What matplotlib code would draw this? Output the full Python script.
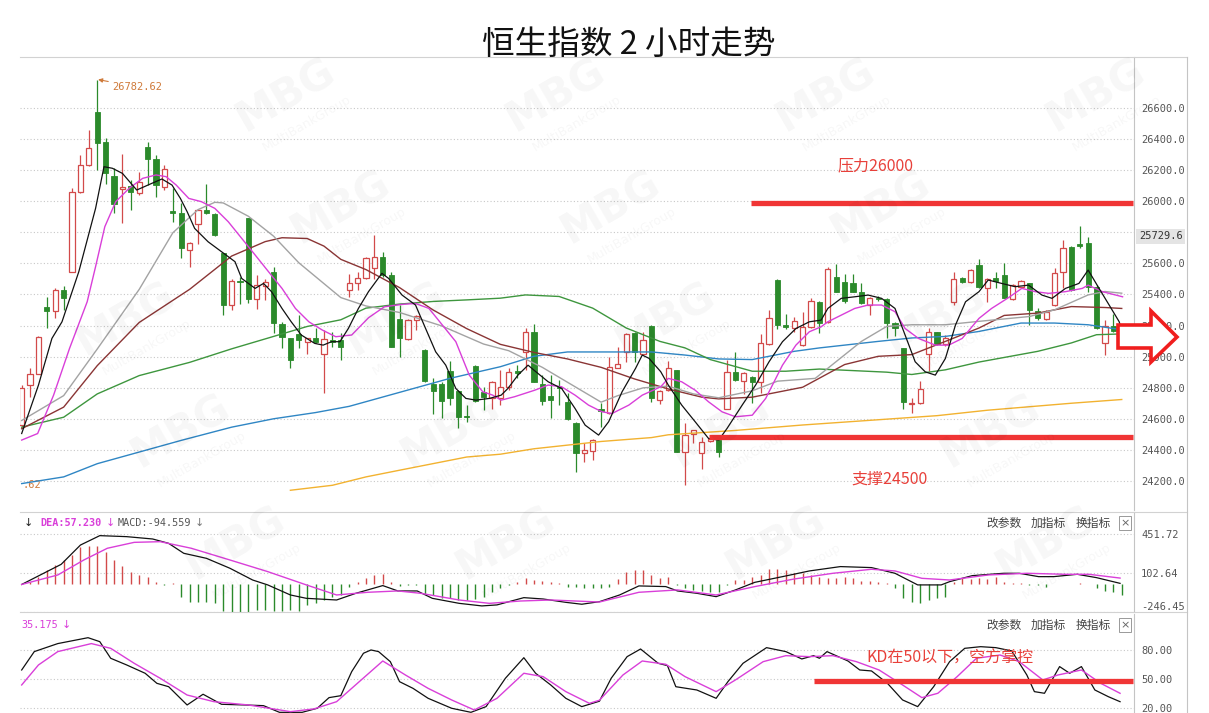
import numpy as np
import matplotlib
matplotlib.use("Agg")
import matplotlib.pyplot as plt
from matplotlib.patches import Polygon
from matplotlib.lines import Line2D
import matplotlib.transforms as mtransforms

plt.rcParams['font.family'] = ['Noto Sans CJK SC', 'DejaVu Sans']

# ---------- 数据：2小时K线 (开, 高, 低, 收) ----------
opens = [24560, 24817, 24888, 25321, 25295, 25428, 25546, 26061, 26233, 26576,
         26383, 26164, 26079, 26098, 26051, 26351, 26270, 26094, 25937, 25922,
         25686, 25851, 25943, 25916, 25664, 25332, 25486, 25890, 25371, 25456,
         25546, 25207, 25117, 25143, 25096, 25117, 25020, 25106, 25106, 25428,
         25471, 25503, 25572, 25643, 25525, 25242, 25113, 25235, 25042, 24827,
         24827, 24907, 24778, 24617, 24941, 24774, 24735, 24731, 24806, 24905,
         25031, 25160, 24827, 24748, 24806, 24709, 24570, 24377, 24392, 24666,
         24637, 24928, 25031, 25149, 25020, 25199, 24720, 24784, 24913, 24388,
         24505, 24377, 24456, 24463, 24666, 24903, 24843, 24870, 24834, 25078,
         25493, 25203, 25181, 25074, 25188, 25353, 25220, 25514, 25478, 25471,
         25418, 25332, 25380, 25371, 25214, 25053, 24694, 24699, 25020, 25156,
         25078, 25349, 25508, 25478, 25589, 25439, 25503, 25525, 25371, 25450,
         25471, 25293, 25242, 25332, 25542, 25707, 25722, 25729, 25450, 25085,
         25199, 25164]
highs = [24820, 24924, 25130, 25385, 25439, 25456, 26083, 26297, 26458, 26782.62,
         26405, 26212, 26302, 26136, 26190, 26383, 26297, 26233, 26083, 25986,
         25735, 25948, 26109, 25922, 25664, 25499, 25514, 25894, 25525, 25499,
         25578, 25224, 25121, 25267, 25121, 25181, 25171, 25160, 25149, 25529,
         25546, 25643, 25782, 25675, 25546, 25332, 25242, 25267, 25046, 24860,
         24834, 24973, 24784, 24688, 24945, 24806, 24842, 24913, 24924, 24945,
         25181, 25207, 24881, 24881, 24849, 24763, 24581, 24441, 24473, 24699,
         25000, 25063, 25149, 25160, 25160, 25203, 24784, 24971, 24917, 24570,
         24530, 24484, 24480, 24495, 24978, 25031, 24900, 24875, 25143, 25300,
         25497, 25272, 25257, 25285, 25379, 25357, 25578, 25593, 25529, 25529,
         25471, 25385, 25390, 25379, 25220, 25057, 24731, 24843, 25181, 25160,
         25140, 25546, 25514, 25563, 25628, 25503, 25542, 25600, 25465, 25493,
         25475, 25310, 25300, 25568, 25750, 25712, 25840, 25772, 25460, 25235,
         25272, 25195]
lows = [24550, 24742, 24885, 25186, 25246, 25300, 25546, 26055, 26228, 26201,
        26109, 25922, 25857, 25943, 26040, 26104, 26029, 26072, 25868, 25632,
        25579, 25722, 25915, 25778, 25267, 25300, 25336, 25342, 25306, 25364,
        25150, 25054, 24924, 25054, 25020, 25090, 24769, 25063, 24978, 25385,
        25428, 25499, 25499, 25514, 25063, 24999, 25106, 25171, 24838, 24628,
        24606, 24688, 24538, 24581, 24710, 24656, 24666, 24688, 24784, 24860,
        24913, 24838, 24690, 24602, 24688, 24592, 24259, 24323, 24334, 24548,
        24630, 24924, 24967, 24967, 25010, 24709, 24692, 24780, 24388, 24177,
        24441, 24280, 24450, 24355, 24660, 24843, 24757, 24699, 24769, 25074,
        25177, 25177, 25160, 25070, 25184, 25150, 25214, 25414, 25342, 25414,
        25336, 25267, 25360, 25117, 25132, 24666, 24634, 24695, 24907, 25074,
        25070, 25332, 25475, 25471, 25439, 25353, 25439, 25375, 25365, 25440,
        25203, 25235, 25235, 25328, 25439, 25420, 25701, 25418, 25177, 25010,
        25160, 25128]
closes = [24800, 24885, 25126, 25293, 25428, 25375, 26061, 26233, 26340, 26373,
          26179, 25980, 26094, 26061, 26126, 26270, 26104, 26207, 25922, 25697,
          25729, 25943, 25922, 25782, 25332, 25488, 25478, 25371, 25460, 25482,
          25214, 25124, 24978, 25106, 25117, 25096, 25113, 25096, 25063, 25471,
          25503, 25636, 25643, 25525, 25063, 25117, 25235, 25263, 24842, 24778,
          24714, 24735, 24613, 24609, 24714, 24742, 24838, 24806, 24903, 24896,
          25156, 24838, 24714, 24720, 24795, 24598, 24377, 24398, 24463, 24649,
          24931, 24950, 25143, 25027, 25106, 24735, 24778, 24928, 24388, 24495,
          24527, 24452, 24473, 24388, 24903, 24849, 24892, 24834, 25085, 25246,
          25203, 25192, 25229, 25192, 25357, 25214, 25563, 25418, 25357, 25418,
          25342, 25379, 25372, 25214, 25186, 24709, 24703, 24791, 25156, 25078,
          25117, 25499, 25482, 25557, 25450, 25499, 25486, 25379, 25460, 25486,
          25300, 25246, 25285, 25536, 25701, 25428, 25714, 25450, 25181, 25199,
          25164, 25190]

# ---------- 均线 (K线序号, 数值) ----------
ma5 = [(0, 24505), (2, 24817), (3.6, 25117), (4.8, 25224), (6.8, 25546), (8.8, 25954),
       (9.8, 26222), (10.8, 26212), (12, 26179), (13.7, 26072), (15.5, 26115), (16.7, 26143),
       (17.9, 26104), (18.9, 26018), (19.7, 25933), (20.6, 25825), (22.2, 25739), (23.8, 25675),
       (25.4, 25611), (26.2, 25503), (27.8, 25439), (28.8, 25471), (29.75, 25418), (31, 25310),
       (32.1, 25224), (33.3, 25139), (34.9, 25085), (35.9, 25074), (36.9, 25096), (37.9, 25096),
       (38.9, 25181), (40.1, 25310), (41.3, 25418), (42.9, 25536), (43.7, 25503), (45.3, 25396),
       (46.9, 25332), (48.1, 25181), (49.3, 25031), (50.5, 24945), (51.7, 24795), (52.9, 24731),
       (54.1, 24720), (55.7, 24731), (57.1, 24752), (57.9, 24795), (59.1, 24881), (60.3, 24945),
       (61, 24913), (62.7, 24838), (64.3, 24795), (65.9, 24666), (67.1, 24559), (68.7, 24495),
       (69.9, 24581), (71.5, 24774), (73.1, 24924), (73.9, 25010), (74.7, 24989), (76.1, 24903),
       (77, 24817), (78.6, 24688), (80.2, 24581), (81.8, 24473), (83, 24463), (84, 24538),
       (85.8, 24688), (87.4, 24817), (89, 24967), (90.6, 25096), (92.2, 25181), (93.8, 25224),
       (95.2, 25235), (96, 25310), (97.6, 25375), (99.2, 25385), (100.8, 25396), (102.4, 25375),
       (104, 25310), (105.2, 25139), (106.4, 24967), (107.6, 24902), (108.8, 24881), (110, 24988),
       (111.2, 25203), (112.4, 25353), (114, 25418), (115.1, 25493), (116.7, 25471), (118.3, 25450),
       (119.9, 25460), (121.5, 25396), (122.7, 25375), (124.3, 25439), (125.9, 25471), (127, 25557),
       (128.3, 25439), (129.5, 25332), (130.7, 25224), (131.1, 25149)]
ma10 = [(0, 24463), (1.9, 24505), (3.8, 24752), (5.7, 25053), (7.8, 25353), (8.8, 25579),
        (9.9, 25836), (11.2, 25997), (12.8, 26083), (14.4, 26147), (16, 26169), (17.2, 26158),
        (18.4, 26104), (19.9, 26018), (21.4, 25997), (23, 25954), (24.6, 25868), (26.2, 25761),
        (27.8, 25654), (29.4, 25546), (31, 25439), (32.6, 25310), (34.2, 25224), (35.8, 25171),
        (37.4, 25128), (39.3, 25139), (41.3, 25250), (43.2, 25321), (45.3, 25336), (46.9, 25342),
        (48.5, 25310), (50.1, 25203), (51.7, 25096), (53.3, 24881), (54.9, 24774), (56.1, 24752),
        (57.1, 24720), (58.7, 24742), (61.1, 24784), (62.7, 24817), (64.3, 24806), (65.9, 24752),
        (67.5, 24688), (69.1, 24645), (70.3, 24634), (72.3, 24688), (73.9, 24752), (76.1, 24806),
        (77, 24860), (78.6, 24838), (80.2, 24784), (81.8, 24709), (83.4, 24645), (85, 24613),
        (87, 24623), (88.6, 24731), (90.6, 24945), (92.2, 25074), (93.8, 25160), (95.2, 25192),
        (96, 25224), (97.6, 25267), (99.2, 25310), (100.8, 25332), (102.4, 25332), (104, 25289),
        (105.2, 25181), (106.8, 25117), (108.8, 25074), (110.4, 25074), (112, 25117), (114, 25246),
        (115.5, 25310), (117.5, 25379), (119.1, 25439), (120.7, 25418), (122.3, 25407),
        (124.3, 25418), (126.3, 25439), (127, 25460), (128.7, 25418), (131.1, 25385)]
ma20 = [(0, 24589), (5, 24749), (9, 25049), (14, 25433), (18, 25797), (21, 25946), (23, 25993),
        (24, 25989), (27, 25903), (30, 25775), (33, 25604), (38, 25380), (41, 25326), (45, 25284),
        (50, 25198), (55, 25081), (58, 25038), (62, 24931), (65, 24835), (69, 24707), (71, 24749),
        (74, 24799), (77, 24810), (80, 24760), (83, 24735), (87, 24780), (90, 24842), (94.5, 24860),
        (100, 25098), (103, 25194), (106, 25205), (110, 25205), (114, 25227), (120, 25258),
        (123, 25301), (127, 25397), (129, 25419), (131, 25408)]
ma30 = [(0, 24536), (5, 24675), (9, 24942), (14, 25220), (20, 25433), (25, 25647), (29, 25740),
        (31, 25765), (34, 25760), (36, 25711), (38, 25626), (41, 25560), (45, 25444), (49, 25300),
        (53, 25180), (57, 25079), (61, 25027), (65, 24985), (69, 24931), (73, 24856), (77, 24792),
        (81, 24739), (83, 24728), (87, 24739), (90, 24771), (93, 24803), (98, 24949), (102, 25002),
        (106, 25013), (110, 25098), (114, 25184), (117, 25265), (121, 25280), (125, 25322),
        (129, 25316), (131, 25310)]
ma60 = [(0, 24546), (5, 24610), (9, 24760), (14, 24878), (20, 24963), (25, 25050), (28, 25098),
        (34, 25194), (38, 25237), (41, 25312), (45, 25338), (49, 25355), (53, 25365), (57, 25376),
        (60, 25397), (64, 25387), (68, 25312), (72, 25184), (76, 25098), (79, 25056), (82, 24981),
        (87, 24906), (91, 24906), (95, 24920), (103, 24900), (106, 24885), (110, 24915),
        (114, 24965), (121, 25034), (125, 25088), (128, 25141), (131, 25146)]
ma120 = [(0, 24183), (5, 24226), (9, 24311), (14, 24386), (19, 24461), (25, 24546), (30, 24600),
         (35, 24640), (39, 24680), (45, 24770), (51, 24860), (57, 24935), (61, 25002), (65, 25030),
         (69, 25030), (75, 25030), (79, 25010), (83, 24985), (87, 24981), (92, 25034), (95, 25056),
         (102, 25098), (106, 25120), (110, 25130), (114, 25162), (119, 25216), (123, 25216),
         (127, 25205), (131, 25173)]
ma250 = [(32, 24140), (37, 24172), (41, 24226), (45, 24269), (53, 24354), (57, 24372), (61, 24407),
         (69, 24454), (75, 24479), (77, 24497), (85, 24525), (93, 24560), (101, 24590),
         (109, 24620), (115, 24655), (125, 24700), (131, 24724)]

# ---------- MACD ----------
macd_hist = [0, 25, 70, 130, 175, 219, 264, 339, 348, 348,
             294, 219, 169, 115, 85, 70, 19, -4, 10, -109,
             -154, -154, -154, -169, -237, -243, -243, -243, -228, -228,
             -237, -237, -228, -237, -183, -169, -139, -109, -94, -19,
             19, 61, 85, 91, 25, -10, -5, -5, -88, -94,
             -118, -124, -139, -139, -130, -109, -70, -28, -4, 19,
             61, 40, 31, 19, 10, -19, -19, -28, -28, -34,
             -19, 49, 115, 130, 130, 85, 61, 70, -4, -28,
             -49, -58, -70, -64, -4, 40, 40, 70, 85, 139,
             139, 130, 100, 100, 85, 70, 61, 55, 70, 55,
             31, 31, 19, 10, -28, -124, -154, -169, -139, -124,
             -109, 25, 55, 49, 55, 49, 70, 25, 10, 10,
             -4, -4, -19, 4, 4, 2, 10, 2, -28, -58,
             -70, -95]
dif = [(0, 0), (4.7, 180), (7, 353), (9.3, 437), (12.5, 428), (15.6, 407), (17.5, 368),
       (19.3, 279), (22, 234), (24.8, 145), (27.5, 40), (29.3, -4), (32, -94), (33.9, -124),
       (37.5, -139), (39.8, -79), (43, -10), (44.8, -58), (47.1, -58), (48.9, -124), (52.1, -169),
       (54.8, -192), (56.6, -183), (59.8, -118), (62.1, -130), (64.8, -160), (66.7, -177),
       (68.8, -154), (71.2, -94), (73.5, -13), (76.7, -19), (78.1, -58), (80.4, -79), (82.7, -109),
       (85, -49), (87.3, 19), (90.6, 70), (93.8, 121), (97.5, 160), (101.2, 151), (104, 100),
       (106.7, -4), (109.5, -4), (110.5, 25), (113.2, 79), (116.9, 100), (118.8, 100), (121.1, 70),
       (122.9, 70), (125.7, 91), (128, 61), (130.8, 10)]
dea = [(0, 0), (4.3, 85), (7.4, 219), (10.2, 324), (13.4, 377), (16.5, 383), (20.2, 324),
       (24.8, 219), (29.3, 115), (33.9, -4), (37.5, -94), (41.2, -70), (44.8, -58), (47.5, -79),
       (52.1, -139), (55.7, -169), (59.4, -148), (63, -139), (68.8, -157), (73.5, -70),
       (78.1, -49), (82.7, -94), (87.3, -19), (92, 49), (96.6, 100), (101.2, 136), (104, 121),
       (107.2, 55), (110.5, 40), (115.1, 85), (119.7, 100), (124.3, 91), (127.1, 91), (130.8, 57.23)]

# ---------- KD ----------
kd_k = [(0, 59.3), (1.5, 78.3), (4.3, 86.6), (7.9, 92.7), (9.3, 88.6), (10.6, 71.4), (12.5, 64.5),
        (14.7, 55.9), (16.1, 45.5), (17.5, 42), (19.7, 23.1), (21.6, 34.2), (23.8, 23.8),
        (26.6, 23.1), (28.8, 22.4), (30.7, 15.5), (33.4, 15.5), (35.2, 19.7), (36.6, 30.7),
        (38, 32.7), (39.3, 57.6), (40.7, 76.6), (41.6, 80), (42.5, 78.3), (43.9, 67.9), (45, 47.2),
        (46.6, 40.3), (48.4, 30), (51.2, 19.7), (53.5, 15.5), (55.3, 21.4), (57.6, 50.7), (59.8, 72),
        (61.2, 55.9), (63, 43.8), (64.8, 30), (66.7, 21.4), (68.8, 27), (70.2, 50.7), (72.1, 73.1),
        (73.7, 81), (75.8, 66.2), (76.9, 63.8), (77.9, 42), (80.4, 38.6), (82.7, 30), (84.1, 47.2),
        (85.9, 66.2), (88.7, 82.4), (91, 78.3), (92.9, 70.7), (94.3, 74.1), (95, 71.4), (95.9, 78.3),
        (98.4, 68.6), (99.8, 59.3), (101.2, 58.3), (103.1, 45.5), (104.9, 28.3), (106.7, 21.4),
        (108.6, 42), (110.5, 67.9), (112.3, 81.7), (114.2, 83.4), (116, 82.4), (117.9, 79),
        (119.7, 54.1), (120.6, 36.9), (121.8, 35.2), (123.6, 62.8), (124.8, 55.9), (126.2, 62.8),
        (127.8, 38.6), (129.4, 31.7), (130.8, 26.5)]
kd_d = [(0, 43.8), (2, 64.5), (4.3, 78.3), (8.3, 86.6), (10.6, 81.7), (13.4, 66.2), (16.5, 50.7),
        (19.7, 33.4), (22.9, 26.5), (27, 23.1), (32, 16.2), (34.8, 19), (37.5, 26.5), (40.2, 47.2),
        (43, 68.6), (45.7, 54.1), (48.4, 40.3), (51.2, 28.3), (53.9, 17.9), (56.6, 30), (59.8, 55.9),
        (62.1, 52.4), (64.8, 36.9), (67.6, 24.8), (68.8, 28), (71.6, 54.1), (73.9, 68.6),
        (76.7, 65.2), (79, 52.4), (82.7, 36.9), (85, 49), (88.3, 67.9), (91, 74.1), (93.8, 73.1),
        (96.6, 74.1), (99.4, 67.9), (102.1, 59.3), (104.9, 43.8), (107.2, 30.7), (109.1, 35.2),
        (111.4, 52.4), (113.7, 71.4), (116.5, 74.8), (118.8, 67.9), (121.6, 49), (123.4, 54.1),
        (126.2, 59.3), (128.5, 45.5), (130.8, 35.175)]

main_ticks = [24200, 24400, 24600, 24800, 25000, 25200, 25400, 25600, 25800, 26000, 26200, 26400, 26600]
macd_ticks = [451.72, 102.64, -246.45]
kd_ticks = [80, 50, 20]

# 颜色
RED = '#d24a4a'
GREEN = '#2b8a2b'
LINE_RED = '#f03535'
TXT_RED = '#e8403a'
ORANGE = '#cf7a3a'
MAGENTA = '#d93fd9'
GRID = '#c8c8c8'

W, H = 1209, 713


def fxy(px, py):
    return px / W, 1 - py / H


fig = plt.figure(figsize=(W / 100, H / 100), dpi=100)
XL = (-0.2, 132.46)

ax = fig.add_axes([20 / W, 1 - 510 / H, 1114 / W, 453 / H])
ax2 = fig.add_axes([20 / W, 1 - 612 / H, 1114 / W, 100 / H])
ax3 = fig.add_axes([20 / W, 0, 1114 / W, 99 / H])

for a in (ax, ax2, ax3):
    a.set_xlim(*XL)
    a.set_xticks([])
    for s in ('left', 'top', 'bottom'):
        a.spines[s].set_visible(False)
    a.spines['right'].set_color('#c4c4c4')
    a.yaxis.tick_right()
    a.tick_params(axis='y', length=0, pad=5, labelsize=7.5, labelcolor='#555555')
    a.grid(axis='y', linestyle=(0, (1, 2)), color=GRID, linewidth=0.8)
    a.set_axisbelow(True)

# ---------- 主图 K线 ----------
o = np.array(opens, float)
h = np.array(highs, float)
l = np.array(lows, float)
c = np.array(closes, float)
idx = np.arange(len(c))
up = c >= o
dn = ~up

ax.vlines(idx[up], l[up], h[up], color=RED, linewidth=0.9, zorder=2)
ax.vlines(idx[dn], l[dn], h[dn], color=GREEN, linewidth=0.9, zorder=2)
ax.bar(idx[up], np.maximum(c[up] - o[up], 6), bottom=o[up], width=0.62,
       facecolor='white', edgecolor=RED, linewidth=0.9, zorder=3)
ax.bar(idx[dn], np.maximum(o[dn] - c[dn], 6), bottom=c[dn], width=0.62,
       facecolor=GREEN, edgecolor=GREEN, linewidth=0.6, zorder=3)

for pts, col, lw in [(ma250, '#f2b230', 1.0), (ma120, '#2f86c4', 1.0), (ma60, '#3e963e', 1.0),
                     (ma30, '#8a3535', 1.0), (ma20, '#a3a3a3', 1.0), (ma10, MAGENTA, 1.0),
                     (ma5, '#111111', 0.9)]:
    xs, ys = np.array(pts).T
    ax.plot(xs, ys, color=col, linewidth=lw, zorder=4)

ax.set_ylim(24013, 26928)
ax.set_yticks(main_ticks)
ax.set_yticklabels(['' if v == 25800 else f'{v:.1f}' for v in main_ticks])
for t in ax.get_yticklabels():
    t.set_family('DejaVu Sans Mono')

# 最高点标注
ax.annotate('26782.62', xy=(9.1, 26782.62), xytext=(10.8, 26735), fontsize=7.5,
            family='DejaVu Sans Mono', color=ORANGE, va='center', ha='left',
            arrowprops=dict(arrowstyle='-|>', color=ORANGE, lw=0.8, mutation_scale=6,
                            shrinkA=1, shrinkB=0))
# 左侧被截断的最低点标注，只露出尾部
ax.text(0.05, 24175, '.62', fontsize=7.5, family='DejaVu Sans Mono', color=ORANGE,
        ha='left', va='center')

# 当前价标签
blend = mtransforms.blended_transform_factory(ax.transAxes, ax.transData)
ax.text(1.0 + 5 / 1114, 25775, '25729.6', transform=blend, fontsize=7.5,
        family='DejaVu Sans Mono', color='#333333', ha='left', va='center',
        bbox=dict(boxstyle='square,pad=0.25', fc='#e4e4e4', ec='none'), clip_on=False)

# 压力 / 支撑
ax.hlines(25990, 86.9, 132.4, color=LINE_RED, linewidth=3.8, zorder=6)
ax.hlines(24485, 81.9, 132.4, color=LINE_RED, linewidth=3.8, zorder=6)
ax.text(101.7, 26225, '压力26000', color=TXT_RED, fontsize=11.5, ha='center', va='center', zorder=7)
ax.text(103.4, 24213, '支撑24500', color=TXT_RED, fontsize=11.5, ha='center', va='center', zorder=7)

# ---------- MACD ----------
hist = np.array(macd_hist, float)
ax2.vlines(idx, 0, hist, colors=np.where(hist >= 0, RED, GREEN), linewidth=1.0, zorder=2)
xs, ys = np.array(dif).T
ax2.plot(xs, ys, color='#111111', linewidth=0.9, zorder=3)
xs, ys = np.array(dea).T
ax2.plot(xs, ys, color=MAGENTA, linewidth=1.0, zorder=3)
ax2.set_ylim(-246.45, 648.6)
ax2.set_yticks(macd_ticks)
ax2.set_yticklabels([f'{v:.2f}' for v in macd_ticks])
for t in ax2.get_yticklabels():
    t.set_family('DejaVu Sans Mono')
ax2.get_yticklabels()[-1].set_verticalalignment('bottom')

# ---------- KD ----------
xs, ys = np.array(kd_k).T
ax3.plot(xs, ys, color='#111111', linewidth=0.9, zorder=3)
xs, ys = np.array(kd_d).T
ax3.plot(xs, ys, color=MAGENTA, linewidth=1.0, zorder=3)
ax3.set_ylim(14.8, 117.2)
ax3.set_yticks(kd_ticks)
ax3.set_yticklabels([f'{v:.2f}' for v in kd_ticks])
for t in ax3.get_yticklabels():
    t.set_family('DejaVu Sans Mono')
ax3.hlines(48, 94.4, 132.4, color=LINE_RED, linewidth=3.8, zorder=6)
ax3.text(110.5, 71.5, 'KD在50以下，空方掌控', color=TXT_RED, fontsize=11.5,
         ha='center', va='center', zorder=7)

# ---------- 标题与面板文字 ----------
fig.text(*fxy(629, 45), '恒生指数 2 小时走势', fontsize=23.5, ha='center', va='center', color='#111111')

mono = dict(family='DejaVu Sans Mono', fontsize=7.3, va='center')
fig.text(*fxy(24, 523), '↓', color='#222222', fontsize=8, va='center', family='DejaVu Sans')
fig.text(*fxy(40, 523), 'DEA:57.230', color=MAGENTA, weight='bold', **mono)
fig.text(*fxy(106, 523), '↓', color=MAGENTA, fontsize=8, va='center', family='DejaVu Sans')
fig.text(*fxy(118, 523), 'MACD:-94.559', color='#555555', **mono)
fig.text(*fxy(195, 523), '↓', color='#777777', fontsize=8, va='center', family='DejaVu Sans')
fig.text(*fxy(21, 625), '35.175', color=MAGENTA, **mono)
fig.text(*fxy(62, 625), '↓', color=MAGENTA, fontsize=8, va='center', family='DejaVu Sans')

for py in (523, 625):
    for px, s in ((986, '改参数'), (1031, '加指标'), (1076, '换指标')):
        fig.text(*fxy(px, py), s, fontsize=8.5, color='#444444', va='center', ha='left')
    fig.text(*fxy(1125, py), '×', fontsize=8, color='#666666', va='center', ha='center',
             family='DejaVu Sans',
             bbox=dict(boxstyle='square,pad=0.15', fc='white', ec='#999999', lw=0.7))

# 框线
for py in (57, 512, 612):
    fig.add_artist(Line2D([20 / W, 1187 / W], [1 - py / H] * 2, color='#d2d2d2', lw=0.8))
fig.add_artist(Line2D([1187 / W] * 2, [1 - 57 / H, 0], color='#c4c4c4', lw=0.8))

# 右侧红色箭头
arrow_px = [(1118, 325), (1151, 325), (1151, 311), (1177, 337), (1151, 362), (1151, 348), (1118, 348)]
fig.add_artist(Polygon([fxy(*p) for p in arrow_px], closed=True, facecolor='white',
                       edgecolor='#f01e1e', linewidth=2.6, zorder=10))

# 水印（只保留完整落在画面内的）
for k in range(6):
    for m in range(-1, 5):
        x = 285 + 55 * k + 270 * m
        y = 95 + 112 * k
        if 75 < x < 1140 and y < 620:
            fig.text(*fxy(x, y), 'MBG', fontsize=30, weight='bold', rotation=30,
                     color='black', alpha=0.035, ha='center', va='center',
                     family='DejaVu Sans', zorder=20)
            fig.text(*fxy(x + 22, y + 28), 'MultiBankGroup', fontsize=9, rotation=30,
                     color='black', alpha=0.035, ha='center', va='center',
                     family='DejaVu Sans', zorder=20)

fig.savefig('out.png', dpi=100)
